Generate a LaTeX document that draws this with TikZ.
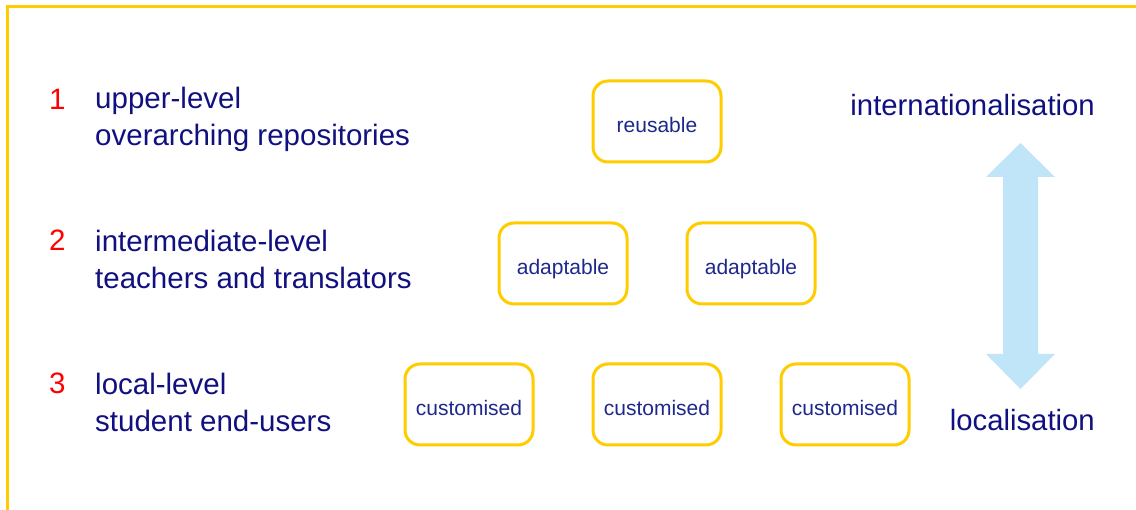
\documentclass[tikz,border=0pt]{standalone}
\usepackage{fontspec}
\setmainfont{Liberation Sans}
\begin{document}
\definecolor{frameyellow}{RGB}{255,204,0}
\definecolor{navytext}{RGB}{16,16,128}
\definecolor{boxtext}{RGB}{30,40,140}
\definecolor{arrowblue}{RGB}{192,229,248}
\begin{tikzpicture}[x=1pt,y=-1pt,
  level/.style={font=\fontsize{29.5}{37}\selectfont, text=navytext, anchor=west, align=left, inner sep=0pt},
  num/.style={font=\fontsize{29.5}{37}\selectfont, text=red, anchor=west, inner sep=0pt},
  card/.style={draw=frameyellow, line width=3pt, rounded corners=15pt, fill=white,
    minimum width=128pt, minimum height=81pt, text=boxtext, font=\fontsize{21}{24}\selectfont,
    text height=22pt, text depth=0pt},
  scalelabel/.style={font=\fontsize{29.3}{32}\selectfont, text=navytext, anchor=east, inner sep=0pt}]
\useasboundingbox (0,0) rectangle (1136,510);
% frame
\draw[frameyellow, line width=3pt] (7,510) -- (7,7) -- (1136,7);
% level labels
\node[num] (n1) at (49,99) {1};
\node[level] (l1) at (95,119) {upper-level\\overarching repositories};
\node[num] (n2) at (49,240) {2};
\node[level] (l2) at (95,259) {intermediate-level\\teachers and translators};
\node[num] (n3) at (49,383) {3};
\node[level] (l3) at (95,402) {local-level\\student end-users};
% cards
\node[card] (r) at (657,121.5) {reusable};
\node[card] (a1) at (563,263.5) {adaptable};
\node[card] (a2) at (751,263.5) {adaptable};
\node[card] (c1) at (469,404.5) {customised};
\node[card] (c2) at (657,404.5) {customised};
\node[card] (c3) at (845,404.5) {customised};
% scale labels
\node[scalelabel] (int) at (1095,105) {internationalisation};
\node[scalelabel] (loc) at (1095,420) {localisation};
% double arrow
\fill[arrowblue] (1020.5,143) -- (1055,177) -- (1038,177) -- (1038,354) -- (1055,354)
  -- (1020.5,389) -- (986,354) -- (1003,354) -- (1003,177) -- (986,177) -- cycle;
\end{tikzpicture}
\end{document}
